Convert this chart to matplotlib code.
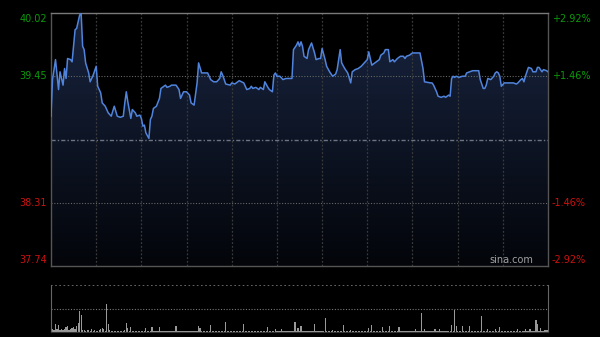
import matplotlib
matplotlib.use("Agg")
import matplotlib.pyplot as plt
import numpy as np
from matplotlib.colors import LinearSegmentedColormap

# 分时数据 (分钟序号, 价格)
minutes = [0, 1, 3, 5, 6, 8, 9, 10, 11, 13, 14, 16, 17, 19, 20, 21, 22, 23, 25, 26,
           28, 30, 31, 33, 34, 36, 38, 40, 42, 44, 46, 48, 49, 50, 51, 53, 54, 56, 57, 59,
           60, 61, 62, 63, 65, 66, 67, 68, 70, 72, 73, 76, 77, 79, 80, 83, 85, 86, 88, 90,
           92, 93, 95, 97, 98, 100, 104, 106, 108, 110, 112, 113, 114, 116, 119, 120, 122, 125, 128, 130,
           132, 133, 134, 136, 138, 139, 141, 142, 144, 145, 147, 148, 149, 150, 152, 154, 156, 159, 160, 161,
           163, 164, 165, 166, 167, 168, 170, 171, 173, 175, 176, 178, 179, 180, 182, 183, 185, 187, 189, 190,
           192, 193, 195, 197, 199, 200, 202, 204, 206, 208, 210, 211, 213, 215, 216, 218, 219, 221, 222, 224,
           225, 227, 228, 230, 232, 234, 235, 236, 238, 240, 244, 245, 247, 248, 252, 253, 254, 255, 256, 257,
           259, 261, 262, 264, 265, 266, 267, 268, 269, 271, 273, 275, 276, 278, 280, 284, 285, 287, 288, 289,
           290, 292, 294, 295, 296, 297, 298, 299, 301, 304, 307, 309, 310, 312, 313, 314, 315, 317, 319, 320,
           322, 323, 324, 326, 327, 329, 330]
prices = [39.09, 39.42, 39.60, 39.33, 39.49, 39.37, 39.52, 39.43, 39.61, 39.60, 39.58, 39.87, 39.88, 40.00, 40.02, 39.72, 39.69, 39.57, 39.48, 39.40,
          39.46, 39.54, 39.36, 39.30, 39.21, 39.18, 39.12, 39.09, 39.18, 39.09, 39.08, 39.09, 39.21, 39.31, 39.22, 39.07, 39.15, 39.12, 39.09, 39.10,
          39.07, 39.00, 39.01, 38.94, 38.89, 39.06, 39.09, 39.16, 39.18, 39.25, 39.34, 39.37, 39.35, 39.36, 39.37, 39.37, 39.33, 39.25, 39.31, 39.31,
          39.28, 39.21, 39.19, 39.39, 39.57, 39.48, 39.48, 39.42, 39.40, 39.40, 39.43, 39.49, 39.46, 39.38, 39.37, 39.39, 39.38, 39.41, 39.39, 39.33,
          39.34, 39.36, 39.34, 39.35, 39.33, 39.35, 39.33, 39.40, 39.35, 39.33, 39.31, 39.46, 39.48, 39.45, 39.45, 39.42, 39.43, 39.43, 39.43, 39.69,
          39.73, 39.76, 39.72, 39.76, 39.72, 39.63, 39.61, 39.69, 39.75, 39.66, 39.60, 39.61, 39.61, 39.70, 39.60, 39.54, 39.49, 39.45, 39.47, 39.51,
          39.69, 39.57, 39.52, 39.48, 39.39, 39.49, 39.51, 39.52, 39.54, 39.57, 39.60, 39.67, 39.55, 39.57, 39.58, 39.60, 39.64, 39.66, 39.69, 39.69,
          39.58, 39.60, 39.58, 39.61, 39.63, 39.63, 39.61, 39.63, 39.64, 39.66, 39.66, 39.66, 39.52, 39.40, 39.39, 39.39, 39.37, 39.34, 39.31, 39.27,
          39.26, 39.27, 39.26, 39.28, 39.27, 39.43, 39.45, 39.44, 39.45, 39.44, 39.45, 39.45, 39.48, 39.49, 39.50, 39.50, 39.42, 39.34, 39.34, 39.37,
          39.43, 39.42, 39.45, 39.48, 39.49, 39.48, 39.45, 39.36, 39.39, 39.39, 39.39, 39.38, 39.39, 39.42, 39.43, 39.40, 39.45, 39.53, 39.52, 39.49,
          39.49, 39.53, 39.53, 39.49, 39.51, 39.50, 39.49]

# 成交量 (每分钟)
volumes = [50, 30, 25, 80, 30, 70, 25, 30, 20, 35, 50, 60, 25, 30, 40, 50, 30, 60, 90, 210, 170, 20, 25, 15, 20, 18, 15, 30, 15, 20,
           15, 12, 18, 30, 40, 30, 15, 280, 80, 20, 12, 10, 15, 12, 10, 14, 10, 12, 15, 18, 90, 40, 15, 50, 12, 10, 14, 10, 12, 15,
           12, 10, 14, 40, 15, 12, 10, 50, 14, 12, 10, 12, 50, 15, 12, 10, 14, 12, 10, 12, 15, 12, 10, 60, 14, 12, 10, 12, 14, 10,
           12, 14, 10, 12, 15, 12, 10, 14, 60, 40, 12, 10, 12, 14, 10, 12, 70, 14, 12, 10, 12, 10, 14, 12, 10, 12, 100, 14, 12, 10,
           10, 12, 14, 10, 12, 10, 12, 14, 80, 12, 10, 12, 10, 14, 12, 10, 12, 10, 14, 12, 10, 12, 14, 12, 50, 12, 10, 14, 12, 30,
           12, 10, 14, 30, 12, 10, 12, 14, 10, 12, 15, 12, 100, 14, 40, 15, 60, 14, 12, 10, 12, 14, 10, 12, 14, 80, 12, 10, 14, 12,
           12, 14, 140, 15, 12, 10, 14, 20, 12, 10, 12, 14, 10, 12, 70, 14, 12, 10, 12, 20, 12, 10, 14, 12, 10, 12, 14, 12, 10, 12,
           14, 40, 12, 70, 15, 12, 10, 14, 12, 10, 50, 14, 12, 10, 12, 60, 14, 12, 10, 12, 14, 50, 12, 10, 12, 14, 10, 12, 14, 12,
           10, 12, 30, 14, 12, 10, 190, 14, 30, 12, 10, 12, 14, 10, 12, 30, 14, 12, 30, 12, 10, 14, 12, 10, 12, 14, 70, 12, 220, 60,
           14, 12, 10, 60, 14, 12, 10, 14, 60, 12, 14, 12, 10, 14, 12, 10, 160, 14, 12, 10, 30, 12, 14, 12, 10, 30, 12, 14, 50, 12,
           14, 12, 10, 14, 12, 10, 14, 12, 10, 12, 30, 14, 12, 10, 14, 30, 12, 14, 30, 12, 14, 12, 120, 80, 14, 40, 12, 14, 18, 20, 25]

prev_close = 38.88
y_low, y_high = 37.74, 40.02
left_ticks = [40.02, 39.45, 38.31, 37.74]
right_ticks = ["+2.92%", "+1.46%", "-1.46%", "-2.92%"]
tick_colors = ["#0a9a0a", "#0a9a0a", "#cc1111", "#cc1111"]
n_min = 330

fig = plt.figure(figsize=(6, 3.37), dpi=100, facecolor="black")
ax = fig.add_axes([51/600, 1-266/337, 497/600, 253/337])
ax.set_facecolor("black")
ax.set_xlim(0, n_min)
ax.set_ylim(y_low, y_high)

# 渐变填充
cmap = LinearSegmentedColormap.from_list("fill", ["#03050a", "#18243f"])
grad = np.linspace(0, 1, 256).reshape(-1, 1)
img = ax.imshow(grad, cmap=cmap, aspect="auto", origin="lower",
                extent=[0, n_min, y_low, y_high], zorder=1)
poly = ax.fill_between(minutes, prices, y_low, color="none", zorder=1)
clip = poly.get_paths()[0]
img.set_clip_path(clip, transform=ax.transData)

# 网格
for t in range(30, n_min, 30):
    ax.axvline(t, color="#3a3a3a", lw=0.9, ls=(0, (1.5, 1.5)), zorder=2)
for v in [39.45, 38.31]:
    ax.axhline(v, color="#666666", lw=0.8, ls=(0, (1, 1.5)), zorder=2)
ax.axhline(prev_close, color="#6d7383", lw=1.0, ls=(0, (3, 1.5, 1, 1.5)), zorder=2)

ax.plot(minutes, prices, color="#5084dc", lw=1.1, zorder=3)

for s in ax.spines.values():
    s.set_color("#555555")
    s.set_linewidth(1)
ax.spines["top"].set_color("#7a7a7a")
ax.set_xticks([])
ax.set_yticks([])

for i, v in enumerate(left_ticks):
    va = "center"
    off = 0
    if i == 0:
        va, off = "top", -0.005
    if i == 3:
        va, off = "bottom", 0.005
    ax.text(-0.008, (v - y_low) / (y_high - y_low) + off, f"{v:.2f}", transform=ax.transAxes,
            ha="right", va=va, color=tick_colors[i], fontsize=7)
    ax.text(1.008, (v - y_low) / (y_high - y_low) + off, right_ticks[i], transform=ax.transAxes,
            ha="left", va=va, color=tick_colors[i], fontsize=7)

ax.text(0.97, 0.005, "sina.com", transform=ax.transAxes, ha="right", va="bottom",
        color="#a0a0a0", fontsize=7, zorder=4)

# 成交量
axv = fig.add_axes([51/600, 1-332/337, 497/600, 47/337])
axv.set_facecolor("black")
axv.set_xlim(0, n_min)
axv.set_ylim(0, 470)
axv.bar(np.arange(len(volumes)), volumes, width=0.8, color="#999999", zorder=2)
axv.axhline(235, color="#777777", lw=0.8, ls=(0, (1, 1.5)), zorder=1)
axv.axhline(470, color="#777777", lw=1.2, ls=(0, (1, 1.5)), zorder=1)
axv.set_xticks([])
axv.set_yticks([])
axv.spines["top"].set_visible(False)
for k in ["left", "right", "bottom"]:
    axv.spines[k].set_color("#666666")
axv.spines["bottom"].set_color("#333333")

fig.savefig("out.png", dpi=100, facecolor="black")
